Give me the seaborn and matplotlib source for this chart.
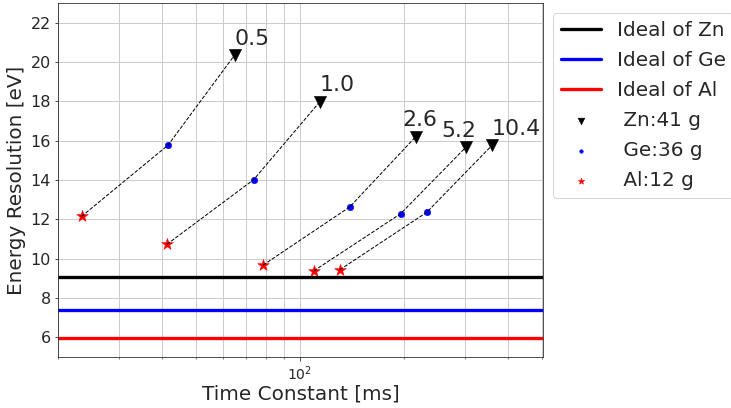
import numpy as np
import pandas as pd
import seaborn as sns
import matplotlib.pyplot as plt

# === data ===
time_labels = ['0.5', '1.0', '2.6', '5.2', '10.4']
zn_tau = [64.8, 114.3, 216.6, 302.3, 359.5]
zn_res = [20.35, 17.98, 16.21, 15.67, 15.76]
ge_tau = [41.6, 73.6, 139.5, 195.6, 232.6]
ge_res = [15.77, 14.02, 12.63, 12.28, 12.35]
al_tau = [23.4, 41.3, 78.3, 109.8, 130.6]
al_res = [12.15, 10.73, 9.67, 9.38, 9.44]

ideal_names = ['Ideal of Zn', 'Ideal of Ge', 'Ideal of Al']
ideal_res = [9.05, 7.37, 5.97]
ideal_colors = ['black', 'blue', 'red']

# label nudges (pixels) so the numbers don't collide
label_dx = [0, 0, -13, -25, 0]

# long table for the dashed connectors
rows = []
for i, lab in enumerate(time_labels):
    for tau, res in [(al_tau[i], al_res[i]), (ge_tau[i], ge_res[i]), (zn_tau[i], zn_res[i])]:
        rows.append({'tc': lab, 'tau': tau, 'res': res})
df = pd.DataFrame(rows)

sns.set_style('white')
plt.rcParams['font.family'] = ['DejaVu Sans']

DPI = 72
fig, ax = plt.subplots(figsize=(731 / DPI, 408 / DPI), dpi=DPI)

for name, val, c in zip(ideal_names, ideal_res, ideal_colors):
    ax.axhline(val, color=c, lw=3.3, label=name)

sns.scatterplot(x=zn_tau, y=zn_res, marker='v', color='black', s=150,
                edgecolor='black', linewidth=0.5, label=' Zn:41 g', ax=ax)
sns.scatterplot(x=ge_tau, y=ge_res, marker='o', color='blue', s=42,
                edgecolor='blue', linewidth=0.5, label=' Ge:36 g', ax=ax)
sns.scatterplot(x=al_tau, y=al_res, marker='*', color='red', s=150,
                edgecolor='red', linewidth=0.5, label=' Al:12 g', ax=ax)

# dashed connectors sit on top of the markers
sns.lineplot(data=df, x='tau', y='res', units='tc', estimator=None, sort=False,
             color='black', ls='--', lw=1, legend=False, ax=ax)

for lab, x, y, dx in zip(time_labels, zn_tau, zn_res, label_dx):
    ax.annotate(lab, (x, y), xytext=(dx, 10.5), textcoords='offset pixels',
                fontsize=22, ha='left', va='baseline')

ax.set_xscale('log')
ax.set_xlim(20, 505)
ax.set_ylim(5, 23)
ax.set_yticks([6, 8, 10, 12, 14, 16, 18, 20, 22])
ax.grid(True, which='both', color='#cccccc', lw=1)
ax.tick_params(axis='both', which='both', bottom=True, left=True)
ax.tick_params(axis='y', labelsize=16)
ax.tick_params(axis='x', labelsize=14)
ax.set_xlabel('Time Constant [ms]', fontsize=20, labelpad=2)
ax.set_ylabel('Energy Resolution [eV]', fontsize=20)

ax.legend(loc='upper left', bbox_to_anchor=(1.0, 1.0), fontsize=20,
          markerscale=0.55, labelspacing=0.55)

fig.subplots_adjust(left=58/731, right=543/731, top=1 - 3/408, bottom=1 - 357/408)
fig.savefig('out.png', dpi=DPI)
